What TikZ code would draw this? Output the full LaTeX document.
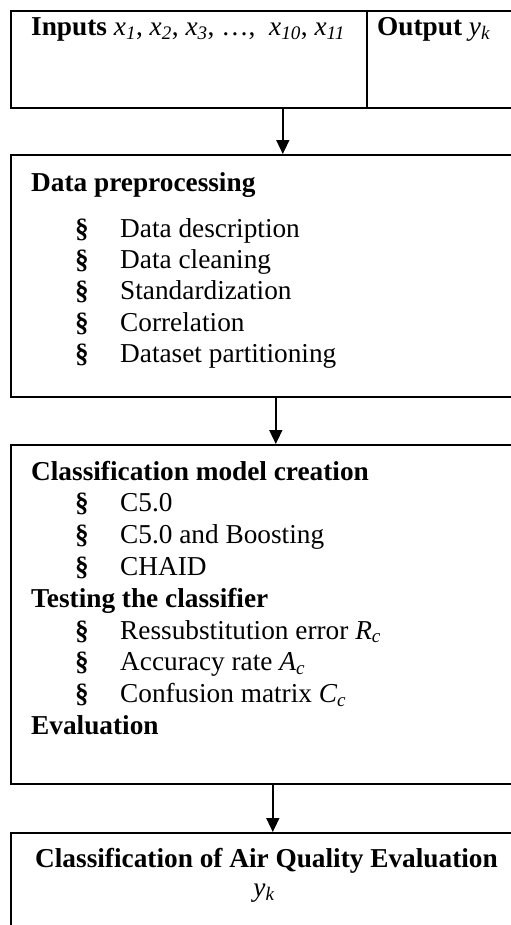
\documentclass[tikz,border=0pt]{standalone}
\usepackage{fontspec}
\setmainfont{Liberation Serif}
\usetikzlibrary{arrows.meta}
\tikzset{
  box/.style={draw,line width=1.6bp,anchor=north west,inner sep=0pt},
  txt/.style={anchor=base west,inner sep=0pt},
  mid/.style={anchor=base,inner sep=0pt},
  arrow/.style={line width=1.6bp,-{Triangle[width=13bp,length=14bp]}}
}
\newcommand{\bul}[1]{\makebox[45bp][l]{\textbf{§}}#1}
\newcommand{\var}[2]{\textit{#1\textsubscript{#2}}}
\begin{document}
\begin{tikzpicture}[x=1bp,y=-1bp,font=\fontsize{27.3bp}{31.5bp}\selectfont]
\useasboundingbox (0,0) rectangle (511,925);
\clip (0,0) rectangle (511,925);
% boxes
\node[box,minimum width=356bp,minimum height=97bp] (inputs) at (10,10) {};
\node[box,minimum width=159bp,minimum height=97bp] (output) at (366,10) {};
\node[box,minimum width=515bp,minimum height=242bp] (prep) at (10,154) {};
\node[box,minimum width=515bp,minimum height=339bp] (model) at (10,444) {};
\node[box,minimum width=515bp,minimum height=120bp] (result) at (10,832) {};
% first row
\node[txt] (intext) at (31,35) {\textbf{Inputs} \var{x}{1}, \var{x}{2}, \var{x}{3}, …, \ \var{x}{10}, \var{x}{11}};
\node[txt] (outtext) at (377,35) {\textbf{Output} \var{y}{k}};
% preprocessing
\node[txt] (preptitle) at (31,191) {\textbf{Data preprocessing}};
\node[txt] (desc) at (75,237) {\bul{Data description}};
\node[txt] (clean) at (75,268) {\bul{Data cleaning}};
\node[txt] (stand) at (75,299.5) {\bul{Standardization}};
\node[txt] (corr) at (75,331) {\bul{Correlation}};
\node[txt] (part) at (75,362) {\bul{Dataset partitioning}};
% model, testing, evaluation
\node[txt] (modeltitle) at (31,480) {\textbf{Classification model creation}};
\node[txt] (cfive) at (75,511.8) {\bul{C5.0}};
\node[txt] (boost) at (75,543.6) {\bul{C5.0 and Boosting}};
\node[txt] (chaid) at (75,575.4) {\bul{CHAID}};
\node[txt] (testtitle) at (31,607.2) {\textbf{Testing the classifier}};
\node[txt] (resub) at (75,639) {\bul{Ressubstitution error \var{R}{c}}};
\node[txt] (acc) at (75,670.8) {\bul{Accuracy rate \var{A}{c}}};
\node[txt] (conf) at (75,702.6) {\bul{Confusion matrix \var{C}{c}}};
\node[txt] (evaltitle) at (31,734.4) {\textbf{Evaluation}};
% result
\node[mid] (restitle) at (266.5,867) {\textbf{Classification of Air Quality Evaluation}};
\node[mid] (resvar) at (264,896) {\var{y}{k}};
% arrows
\draw[arrow] ([xshift=94bp]inputs.south) coordinate (a1) -- (a1 |- prep.north);
\draw[arrow] ([xshift=7.5bp]prep.south) coordinate (a2) -- (a2 |- model.north);
\draw[arrow] ([xshift=4.5bp]model.south) coordinate (a3) -- (a3 |- result.north);
\end{tikzpicture}
\end{document}
